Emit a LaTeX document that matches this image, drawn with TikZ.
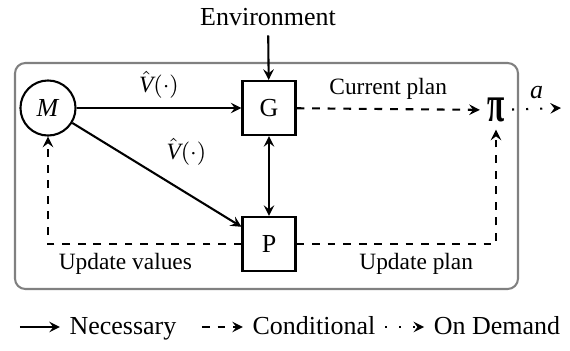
\documentclass[tikz,border=0pt]{standalone}
\usepackage{fontspec}
\setmainfont{Liberation Serif}
\usetikzlibrary{arrows}

\begin{document}
\begin{tikzpicture}
[x=0.385pt,y=-0.385pt,thick,>=stealth,%
  block/.style={draw,rectangle,minimum width=20.4pt,minimum height=20.8pt,inner sep=0pt},%
  model/.style={draw,circle,minimum size=21.2pt,inner sep=0pt},%
  lbl/.style={font=\small},%
  need/.style={->},%
  cond/.style={->,dashed},%
  demand/.style={->,dash pattern=on 0.8pt off 4.6pt},%
  legend/.style={text height=1.6ex,text depth=.4ex}]
\useasboundingbox (0,0) rectangle (570,351);
\draw[gray,rounded corners=4pt] (15,63) rectangle (518,289);
% nodes
\node (env) at (268,17) {Environment};
\node[model] (M) at (48,108) {\textit{M}};
\node[block] (G) at (269,108) {G};
\node[block] (P) at (269,244) {P};
\node[inner sep=2.5pt] (pi) at (496,110) {\scalebox{0.55}[0.9]{\fontsize{22}{22}\selectfont\bfseries π}};
\coordinate (out) at (561,108);
% connectors
\draw[need] (env) -- (G);
\draw[need] (M) -- node[lbl,above] {$\hat{\textit{V}}(\cdot)$} (G);
\draw[need] (M) -- node[lbl,above right=0pt] {$\hat{\textit{V}}(\cdot)$} (P.148);
\draw[<->] (G) -- (P);
\draw[cond] (G) -- node[lbl,above] {Current plan} (pi);
\draw[cond] (P.west) -| node[lbl,below,pos=0.3] {Update values} (M);
\draw[cond] (P.east) -| node[lbl,below,pos=0.3] {Update plan} (pi);
\draw[demand] (pi) -- node[above] {\textit{a}} (out);
% legend
\coordinate (necs) at (20,327);
\node[legend] (nec) at (123,327) {Necessary};
\coordinate (cons) at (202,327);
\node[legend] (con) at (314,327) {Conditional};
\node[legend] (dem) at (497,327) {On Demand};
\draw[need] (necs) -- (nec);
\draw[cond] (cons) -- (con);
\draw[demand] (con) -- (dem);
\end{tikzpicture}
\end{document}
